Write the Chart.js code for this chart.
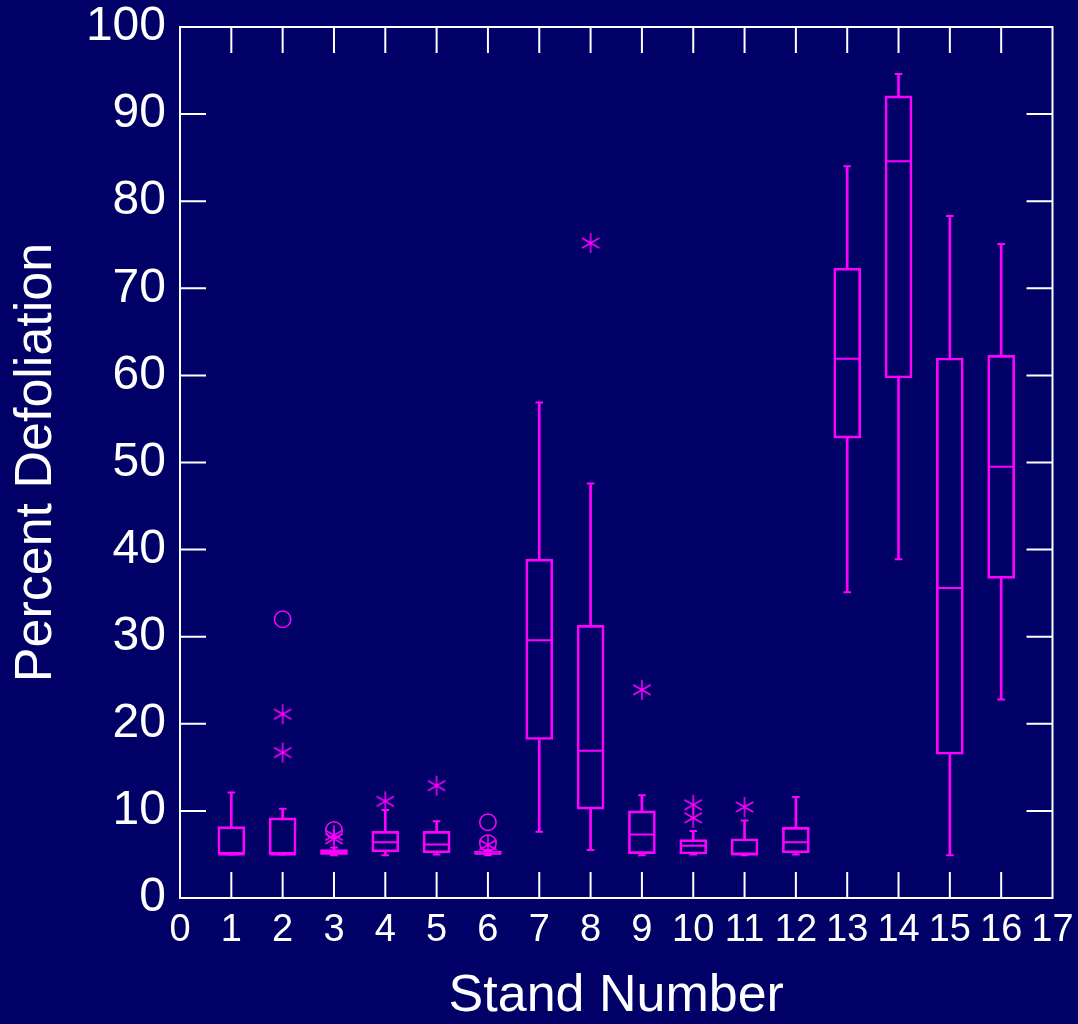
<!DOCTYPE html>
<html>
<head>
<meta charset="utf-8">
<title>Percent Defoliation by Stand</title>
<script src="https://cdn.jsdelivr.net/npm/chart.js@4.4.1/dist/chart.umd.min.js"></script>
<style>
  html, body { margin: 0; padding: 0; background: #000066; }
  canvas { display: block; }
</style>
</head>
<body>
<canvas id="box-plot" width="1078" height="1024"></canvas>
<script>
'use strict';

// box statistics per stand
const stands = [1, 2, 3, 4, 5, 6, 7, 8, 9, 10, 11, 12, 13, 14, 15, 16];
const lowWhisker = [5.0, 5.0, 4.9, 4.9, 5.0, 4.9, 7.6, 5.5, 4.9, 5.0, 4.9, 5.0, 35.1, 38.9, 4.9, 22.8];
const lowerQuartile = [5.0, 5.0, 5.0, 5.3, 5.2, 5.0, 18.2, 10.2, 5.1, 5.05, 4.95, 5.2, 52.8, 59.7, 16.5, 36.7];
const medians = [5.0, 5.0, 5.1, 6.4, 6.15, 5.1, 29.6, 16.9, 7.3, 6.0, 5.0, 6.4, 61.9, 84.6, 35.6, 49.5];
const upperQuartile = [8.2, 9.2, 5.55, 7.65, 7.65, 5.35, 38.9, 31.3, 10.0, 6.7, 6.8, 8.1, 72.3, 92.1, 62.0, 62.3];
const highWhisker = [12.1, 10.25, 5.8, 10.1, 8.8, 5.5, 56.9, 47.6, 11.8, 7.7, 8.9, 11.6, 84.0, 94.6, 78.3, 75.1];

// outliers: asterisks and circles
const starStand = [2, 2, 3, 3, 4, 5, 6, 8, 9, 10, 10, 11];
const starValue = [21.1, 16.7, 7.2, 6.8, 11.1, 12.9, 6.1, 75.2, 23.9, 10.7, 9.2, 10.45];
const circleStand = [2, 3, 6, 6];
const circleValue = [32.0, 7.8, 8.7, 6.3];

// axis ranges
const xRange = [0, 17];
const yRange = [0, 100];

const pink = '#ff00ff';
const navy = '#000066';
const font = '"Liberation Sans", Arial, sans-serif';

function makeAsterisk(r, color, width) {
  let c = document.createElement('canvas');
  let s = Math.ceil(2 * r + 4);
  c.width = s;
  c.height = s;
  let g = c.getContext('2d');
  g.strokeStyle = color;
  g.lineWidth = width;
  g.beginPath();
  for (let k = 0; k < 3; k++) {
    let a = Math.PI / 2 + k * Math.PI / 3;
    g.moveTo(s / 2 + r * Math.cos(a), s / 2 + r * Math.sin(a));
    g.lineTo(s / 2 - r * Math.cos(a), s / 2 - r * Math.sin(a));
  }
  g.stroke();
  return c;
}

// keep the plot box fixed: no extra room for overhanging labels
function noPad(s) {
  s.paddingTop = 0;
  s.paddingBottom = 0;
  s.paddingLeft = 0;
  s.paddingRight = 0;
}

let boxes = stands.map((s, i) => ({ x: s, y: [lowerQuartile[i], upperQuartile[i]] }));
let upper = stands.map((s, i) => ({ x: s, y: [upperQuartile[i], highWhisker[i]] }));
let lower = stands.map((s, i) => ({ x: s, y: [lowWhisker[i], lowerQuartile[i]] }));
let caps = stands.map((s, i) => ({ x: s, y: highWhisker[i] }))
  .concat(stands.map((s, i) => ({ x: s, y: lowWhisker[i] })));
let mids = stands.map((s, i) => ({ x: s, y: medians[i] }));
let stars = starStand.map((s, i) => ({ x: s, y: starValue[i] }));
let rings = circleStand.map((s, i) => ({ x: s, y: circleValue[i] }));

// frame and inward ticks on all four sides
const frame = {
  id: 'frame',
  beforeDraw(chart) {
    let ctx = chart.ctx;
    ctx.save();
    ctx.fillStyle = navy;
    ctx.fillRect(0, 0, chart.width, chart.height);
    ctx.restore();
  },
  afterDraw(chart) {
    let { ctx, chartArea: a, scales: { x, y } } = chart;
    let len = 26;
    ctx.save();
    ctx.strokeStyle = '#ffffff';
    ctx.lineWidth = 2;
    ctx.beginPath();
    x.ticks.forEach((t) => {
      if (t.value <= x.min || t.value >= x.max) return;
      let px = x.getPixelForValue(t.value);
      ctx.moveTo(px, a.bottom);
      ctx.lineTo(px, a.bottom - len);
      ctx.moveTo(px, a.top);
      ctx.lineTo(px, a.top + len);
    });
    y.ticks.forEach((t) => {
      if (t.value <= y.min || t.value >= y.max) return;
      let py = y.getPixelForValue(t.value);
      ctx.moveTo(a.left, py);
      ctx.lineTo(a.left + len, py);
      ctx.moveTo(a.right, py);
      ctx.lineTo(a.right - len, py);
    });
    ctx.stroke();
    ctx.strokeRect(a.left, a.top, a.right - a.left, a.bottom - a.top);
    ctx.restore();
  },
};

new Chart(document.getElementById('box-plot'), {
  type: 'bar',
  data: {
    datasets: [
      {
        type: 'bar', data: boxes, grouped: false, barThickness: 27,
        backgroundColor: 'rgba(0,0,0,0)', borderColor: pink, borderWidth: 2, borderSkipped: false,
      },
      { type: 'bar', data: upper, grouped: false, barThickness: 2, backgroundColor: pink, borderWidth: 0 },
      { type: 'bar', data: lower, grouped: false, barThickness: 2, backgroundColor: pink, borderWidth: 0 },
      { type: 'scatter', data: caps, pointStyle: 'line', pointRadius: 3.8, borderColor: pink, borderWidth: 2 },
      { type: 'scatter', data: mids, pointStyle: 'line', pointRadius: 13, borderColor: pink, borderWidth: 2 },
      { type: 'scatter', data: stars, pointStyle: makeAsterisk(10, pink, 1.5), pointRadius: 10 },
      {
        type: 'scatter', data: rings, pointStyle: 'circle', pointRadius: 8.2,
        borderColor: pink, borderWidth: 1.5, backgroundColor: 'rgba(0,0,0,0)',
      },
    ],
  },
  options: {
    responsive: false,
    animation: false,
    events: [],
    layout: { padding: { top: 27, right: 25.5, left: 0, bottom: 0 } },
    plugins: { legend: { display: false }, tooltip: { enabled: false } },
    scales: {
      x: {
        type: 'linear',
        min: xRange[0],
        max: xRange[1],
        offset: false,
        grid: { display: false, drawTicks: false, offset: false },
        border: { display: false },
        ticks: {
          stepSize: 1, autoSkip: false, maxRotation: 0, color: '#ffffff', padding: 14,
          font: { family: font, size: 38, lineHeight: 1 },
        },
        title: {
          display: true, text: 'Stand Number', color: '#ffffff',
          font: { family: font, size: 52, lineHeight: 1 }, padding: { top: 0, bottom: 1 },
        },
        afterFit: (s) => { s.height = 126; noPad(s); },
      },
      y: {
        min: yRange[0],
        max: yRange[1],
        grid: { display: false, drawTicks: false },
        border: { display: false },
        ticks: {
          stepSize: 10, color: '#ffffff', padding: 14,
          font: { family: font, size: 48, lineHeight: 1 },
        },
        title: {
          display: true, text: 'Percent Defoliation', color: '#ffffff',
          font: { family: font, size: 52, lineHeight: 1 }, padding: { top: 11, bottom: 0 },
        },
        afterFit: (s) => { s.width = 180; noPad(s); },
      },
    },
  },
  plugins: [frame],
});
</script>
</body>
</html>
